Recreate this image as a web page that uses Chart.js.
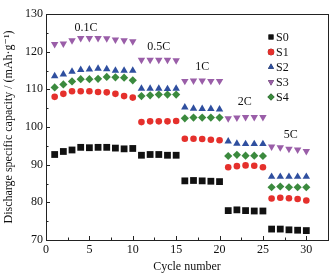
<!DOCTYPE html>
<html>
<head>
<meta charset="utf-8">
<script src="https://cdn.jsdelivr.net/npm/chart.js@4.4.1/dist/chart.umd.min.js"></script>
<style>
  html, body { margin: 0; padding: 0; background: #fff; }
  #wrap { width: 336px; height: 274px; position: relative; }
</style>
</head>
<body>
<div id="wrap"><canvas id="rate-chart"></canvas></div>
<script>
  'use strict';

  const cycles = [1,2,3,4,5,6,7,8,9,10,11,12,13,14,15,16,17,18,19,20,21,22,23,24,25,26,27,28,29,30];
  const seriesNames = ['S0', 'S1', 'S2', 'S3', 'S4'];
  const rateLabels = ['0.1C', '0.5C', '1C', '2C', '5C'];
  const xTicks = [0, 5, 10, 15, 20, 25, 30];
  const yTicks = [70, 80, 90, 100, 110, 120, 130];

  const s0 = [92.7, 93.5, 93.9, 94.6, 94.5, 94.6, 94.6, 94.4, 94.2, 94.3,
              92.5, 92.7, 92.7, 92.5, 92.5,
              85.7, 85.8, 85.7, 85.6, 85.5,
              77.8, 78.0, 77.8, 77.7, 77.7,
              72.9, 72.9, 72.7, 72.6, 72.5];
  const s1 = [108.0, 108.8, 109.5, 109.5, 109.5, 109.3, 109.2, 108.8, 108.2, 107.8,
              101.3, 101.5, 101.5, 101.5, 101.6,
              96.9, 96.9, 96.8, 96.6, 96.5,
              89.3, 89.6, 89.8, 89.7, 89.3,
              81.0, 81.2, 81.1, 80.9, 80.5];
  const s2 = [113.5, 114.0, 114.7, 115.2, 115.3, 115.5, 115.4, 115.0, 115.0, 115.0,
              110.2, 110.2, 110.2, 110.1, 110.2,
              105.2, 104.9, 104.8, 104.8, 104.7,
              96.2, 95.6, 95.5, 95.5, 95.5,
              86.8, 86.8, 86.8, 86.8, 86.8];
  const s3 = [122.0, 122.1, 123.0, 123.6, 123.6, 123.6, 123.5, 123.2, 123.0, 122.7,
              117.8, 117.8, 117.8, 117.8, 117.7,
              112.2, 112.3, 112.3, 112.2, 112.2,
              102.3, 102.5, 102.6, 102.6, 102.6,
              94.8, 94.6, 94.2, 94.0, 93.6];
  const s4 = [110.5, 111.3, 112.1, 112.7, 112.7, 112.8, 113.3, 113.2, 113.1, 112.4,
              108.2, 108.4, 108.6, 108.6, 108.6,
              102.3, 102.5, 102.5, 102.5, 102.5,
              92.3, 92.6, 92.4, 92.4, 92.3,
              84.0, 84.2, 84.0, 84.0, 84.0];

  const seriesValues = [s0, s1, s2, s3, s4];
  const colors = ['#111111', '#e5302c', '#2f4f9f', '#9a5ea8', '#3b8a3e'];
  const pointStyles = ['rect', 'circle', 'triangle', 'triangle', 'rectRot'];
  const pointRotations = [0, 0, 0, 180, 0];
  const pointRadii = [4.8, 3.3, 4.3, 4.3, 4.1];

  const FONT = '"Liberation Serif", "DejaVu Serif", serif';

  const datasets = seriesNames.map((name, i) => ({
    label: name,
    data: cycles.map((c, j) => ({ x: c, y: seriesValues[i][j] })),
    showLine: false,
    pointStyle: pointStyles[i],
    rotation: pointRotations[i],
    pointRadius: pointRadii[i],
    pointBorderWidth: 0,
    pointBackgroundColor: colors[i],
    pointBorderColor: colors[i],
    borderColor: colors[i],
    backgroundColor: colors[i]
  }));

  // frame, inward ticks, rate labels and legend
  const decorations = {
    id: 'decorations',
    afterDraw(chart) {
      const ctx = chart.ctx;
      const area = chart.chartArea;
      const xs = chart.scales.x;
      const ys = chart.scales.y;
      ctx.save();
      ctx.strokeStyle = '#222';
      ctx.lineWidth = 1;
      ctx.strokeRect(Math.round(area.left) + 0.5, Math.round(area.top) + 0.5,
        Math.round(area.right - area.left), Math.round(area.bottom - area.top));

      ctx.beginPath();
      for (let v = 0; v <= 30; v += 2.5) {
        const px = Math.round(xs.getPixelForValue(v)) + 0.5;
        const len = (v % 5 === 0) ? 4 : 2.5;
        ctx.moveTo(px, area.bottom);
        ctx.lineTo(px, area.bottom - len);
      }
      for (let v = 70; v <= 130; v += 5) {
        const py = Math.round(ys.getPixelForValue(v)) + 0.5;
        const len = (v % 10 === 0) ? 4 : 2.5;
        ctx.moveTo(area.left, py);
        ctx.lineTo(area.left + len, py);
      }
      ctx.stroke();

      // rate labels
      const labelPos = [[4.6, 126.3], [13.0, 121.2], [18.0, 115.9], [22.9, 106.6], [28.2, 98.0]];
      ctx.fillStyle = '#111';
      ctx.font = '12px ' + FONT;
      ctx.textAlign = 'center';
      ctx.textBaseline = 'middle';
      rateLabels.forEach((t, i) => {
        ctx.fillText(t, xs.getPixelForValue(labelPos[i][0]), ys.getPixelForValue(labelPos[i][1]));
      });

      // legend
      ctx.textAlign = 'left';
      chart.data.datasets.forEach((ds, i) => {
        const ly = 37 + i * 15;
        Chart.helpers.drawPoint(ctx, {
          pointStyle: ds.pointStyle,
          rotation: ds.rotation,
          radius: pointStyles[i] === 'circle' ? 3.2 : 3.5,
          borderWidth: 0
        }, 271, ly);
        ctx.fillStyle = ds.pointBackgroundColor;
        ctx.fill();
        ctx.fillStyle = '#111';
        ctx.fillText(ds.label, 276, ly + 0.5);
      });
      ctx.restore();
    }
  };

  new Chart(document.getElementById('rate-chart'), {
    type: 'scatter',
    data: { datasets },
    options: {
      responsive: true,
      maintainAspectRatio: false,
      animation: false,
      layout: { padding: { top: 14, right: 8, left: 0, bottom: 0 } },
      plugins: {
        legend: { display: false },
        tooltip: { enabled: false }
      },
      scales: {
        x: {
          type: 'linear',
          min: 0,
          max: 32.5,
          afterBuildTicks: (scale) => { scale.ticks = xTicks.map(v => ({ value: v })); },
          afterFit: (scale) => { scale.height = 34; },
          grid: { display: false, drawTicks: false },
          border: { display: false },
          ticks: {
            color: '#111',
            padding: 3,
            maxRotation: 0,
            font: { family: FONT, size: 12 }
          },
          title: {
            display: true,
            text: 'Cycle number',
            color: '#111',
            padding: { top: 0, bottom: 0 },
            font: { family: FONT, size: 12 }
          }
        },
        y: {
          type: 'linear',
          min: 70,
          max: 130,
          afterBuildTicks: (scale) => { scale.ticks = yTicks.map(v => ({ value: v })); },
          afterFit: (scale) => { scale.width = 46; },
          grid: { display: false, drawTicks: false },
          border: { display: false },
          ticks: {
            color: '#111',
            padding: 3,
            font: { family: FONT, size: 12 }
          },
          title: {
            display: true,
            text: 'Discharge specific capacity / (mAh·g⁻¹)',
            color: '#111',
            padding: { top: 2, bottom: 0 },
            font: { family: FONT, size: 12 }
          }
        }
      }
    },
    plugins: [decorations]
  });
</script>
</body>
</html>
